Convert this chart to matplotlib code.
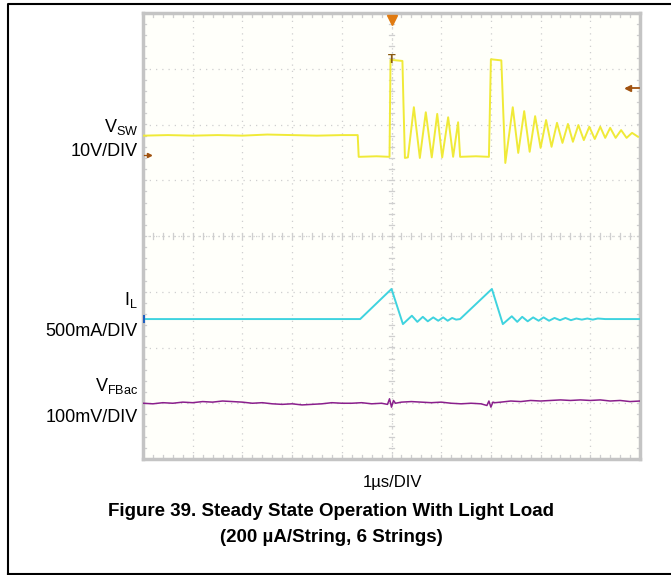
import matplotlib
matplotlib.use("Agg")
import matplotlib.pyplot as plt
import numpy as np

plt.rcParams['font.family'] = ['Liberation Sans', 'DejaVu Sans']
plt.rcParams['mathtext.default'] = 'regular'

# ---- data (time in us, trigger at 0; amplitude in screen divisions) ----
vsw_t = [-5.0, -4.5, -4.0, -3.5, -3.0, -2.5, -2.0, -1.5, -1.0, -0.68, -0.66, -0.3, -0.04,
         -0.02, 0.22, 0.24, 0.27, 0.33, 0.45, 0.57, 0.69, 0.81, 0.92, 1.02, 1.14, 1.24, 1.34,
         1.38, 1.7, 1.96, 2.0, 2.21, 2.25, 2.29, 2.44, 2.55, 2.67, 2.78, 2.89, 3.00, 3.11,
         3.22, 3.33, 3.44, 3.55, 3.65, 3.76, 3.87, 3.98, 4.09, 4.20, 4.30, 4.40, 4.51, 4.62,
         4.73, 4.84, 4.96]
vsw_v = [1.80, 1.81, 1.80, 1.81, 1.80, 1.82, 1.81, 1.80, 1.81, 1.81, 1.42, 1.43, 1.42,
         3.16, 3.14, 2.4, 1.40, 1.41, 2.31, 1.40, 2.22, 1.41, 2.19, 1.41, 2.13, 1.42, 2.04,
         1.42, 1.43, 1.42, 3.17, 3.15, 2.2, 1.31, 2.31, 1.49, 2.24, 1.51, 2.15, 1.58, 2.08,
         1.60, 2.03, 1.67, 2.01, 1.69, 1.99, 1.72, 1.96, 1.74, 1.96, 1.76, 1.94, 1.76, 1.90,
         1.76, 1.85, 1.78]

il_t = [-5.0, -3.0, -1.0, -0.63, 0.0, 0.23, 0.41, 0.52, 0.63, 0.73, 0.84, 0.94, 1.04,
        1.13, 1.22, 1.30, 1.38, 2.02, 2.24, 2.42, 2.53, 2.63, 2.74, 2.85, 2.96, 3.06,
        3.17, 3.28, 3.39, 3.50, 3.61, 3.72, 3.83, 3.94, 4.05, 4.15, 4.3, 5.0]
il_v = [-1.49, -1.49, -1.49, -1.49, -0.95, -1.58, -1.43, -1.54, -1.45, -1.53, -1.46,
        -1.52, -1.46, -1.52, -1.47, -1.50, -1.49, -0.95, -1.58, -1.44, -1.54, -1.45,
        -1.53, -1.46, -1.52, -1.46, -1.52, -1.47, -1.51, -1.47, -1.51, -1.48, -1.50,
        -1.48, -1.50, -1.48, -1.49, -1.49]

fb_t = [-5.0, -4.8, -4.6, -4.4, -4.2, -4.0, -3.8, -3.6, -3.4, -3.2, -3.0, -2.8, -2.6,
        -2.4, -2.2, -2.0, -1.8, -1.6, -1.4, -1.2, -1.0, -0.8, -0.6, -0.4, -0.2, -0.08,
        -0.04, 0.0, 0.04, 0.08, 0.2, 0.4, 0.6, 0.8, 1.0, 1.2, 1.4, 1.6, 1.8, 1.92, 1.96,
        2.0, 2.04, 2.08, 2.2, 2.4, 2.6, 2.8, 3.0, 3.2, 3.4, 3.6, 3.8, 4.0, 4.2, 4.4,
        4.6, 4.8, 5.0]
fb_v = [-3.00, -3.01, -2.99, -3.00, -2.98, -2.99, -2.97, -2.98, -2.96, -2.97, -2.98,
        -3.00, -2.99, -3.01, -3.02, -3.01, -3.03, -3.02, -3.01, -2.99, -3.00, -3.00,
        -2.99, -3.01, -3.00, -3.02, -2.92, -3.07, -2.95, -3.00, -2.98, -2.97, -2.98,
        -2.99, -2.98, -3.00, -3.01, -3.00, -3.01, -3.04, -2.96, -3.07, -2.98, -2.99,
        -2.98, -2.96, -2.97, -2.95, -2.96, -2.95, -2.94, -2.95, -2.94, -2.95, -2.94,
        -2.96, -2.95, -2.97, -2.96]

ch_labels = [(r'V$_{SW}$', '10V/DIV'), (r'I$_{L}$', '500mA/DIV'), (r'V$_{FBac}$', '100mV/DIV')]
label_y = [(127, 152), (300, 331), (386, 417)]
time_label = '1\u00b5s/DIV'
caption1 = 'Figure 39. Steady State Operation With Light Load'
caption2 = '(200 \u00b5A/String, 6 Strings)'

W, H = 671, 575
fig = plt.figure(figsize=(W / 100, H / 100), dpi=100)
fig.patch.set_facecolor('white')

# outer frame
frame = fig.add_axes([0, 0, 1, 1])
frame.set_xlim(0, W); frame.set_ylim(H, 0); frame.axis('off')
frame.plot([8, 8, W], [574, 4, 4], color='black', lw=1.5)
frame.plot([8, W], [574, 574], color='black', lw=1.5)

L, T, R, B = 143, 13, 640, 459
ax = fig.add_axes([L / W, 1 - B / H, (R - L) / W, (B - T) / H])
ax.set_facecolor('#fffffa')
ax.set_xlim(-5, 5); ax.set_ylim(-4, 4)
ax.set_xticks([]); ax.set_yticks([])
for s in ax.spines.values():
    s.set_color('#c4c4c4'); s.set_linewidth(2.5)

gc = '#cfcfcf'
for x in range(-4, 5):
    ax.axvline(x, color=gc, lw=0.9, ls=(0, (1, 4)), zorder=1)
for y in range(-3, 4):
    ax.axhline(y, color=gc, lw=0.9, ls=(0, (1, 4)), zorder=1)
# center ticks
mx = np.arange(-5, 5.001, 0.2)
my = np.arange(-4, 4.001, 0.2)
for x in mx:
    ax.plot([x, x], [-0.05, 0.05], color=gc, lw=0.9, zorder=1)
    ax.plot([x, x], [3.93, 4], color=gc, lw=0.9, zorder=1)
    ax.plot([x, x], [-4, -3.93], color=gc, lw=0.9, zorder=1)
for y in my:
    ax.plot([-0.05, 0.05], [y, y], color=gc, lw=0.9, zorder=1)
    ax.plot([-5, -4.93], [y, y], color=gc, lw=0.9, zorder=1)
    ax.plot([4.93, 5], [y, y], color=gc, lw=0.9, zorder=1)
ax.axvline(0, color=gc, lw=0.9, ls=(0, (1, 3)), zorder=1)
ax.axhline(0, color=gc, lw=0.9, ls=(0, (1, 3)), zorder=1)

ax.plot(vsw_t, vsw_v, color='#f0ea38', lw=1.4, zorder=3)
ax.plot(il_t, il_v, color='#3fd3df', lw=1.4, zorder=3)
ax.plot(fb_t, fb_v, color='#8a1f8c', lw=1.1, zorder=3)

# markers
ax.plot([0], [3.88], marker='v', color='#e07a10', ms=7, zorder=4, clip_on=False)
ax.text(0, 3.16, 'T', color='#8a5a10', fontsize=9, fontweight='bold', ha='center', va='center', zorder=4)
ax.plot([4.74, 4.98], [2.65, 2.65], color='#a0520f', lw=1.3, zorder=4)
ax.plot([4.76], [2.65], marker='<', color='#a0520f', ms=5, zorder=4)
ax.plot([-4.97, -4.88], [1.45, 1.45], color='#a0520f', lw=0.9, zorder=4)
ax.plot([-4.88], [1.45], marker='>', color='#a0520f', ms=3, zorder=4)
ax.plot([-4.97, -4.97], [-1.55, -1.43], color='#2060c0', lw=1.5, zorder=4)

for (l1, l2), (y1, y2) in zip(ch_labels, label_y):
    frame.text(138, y1, l1, fontsize=13, ha='right', va='center')
    frame.text(138, y2, l2, fontsize=13, ha='right', va='center')

frame.text(392, 482, time_label, fontsize=12, ha='center', va='center')
frame.text(331, 512, caption1, fontsize=13.5, fontweight='bold', ha='center', va='center')
frame.text(331, 538, caption2, fontsize=13.5, fontweight='bold', ha='center', va='center')

fig.savefig('out.png', dpi=100)
